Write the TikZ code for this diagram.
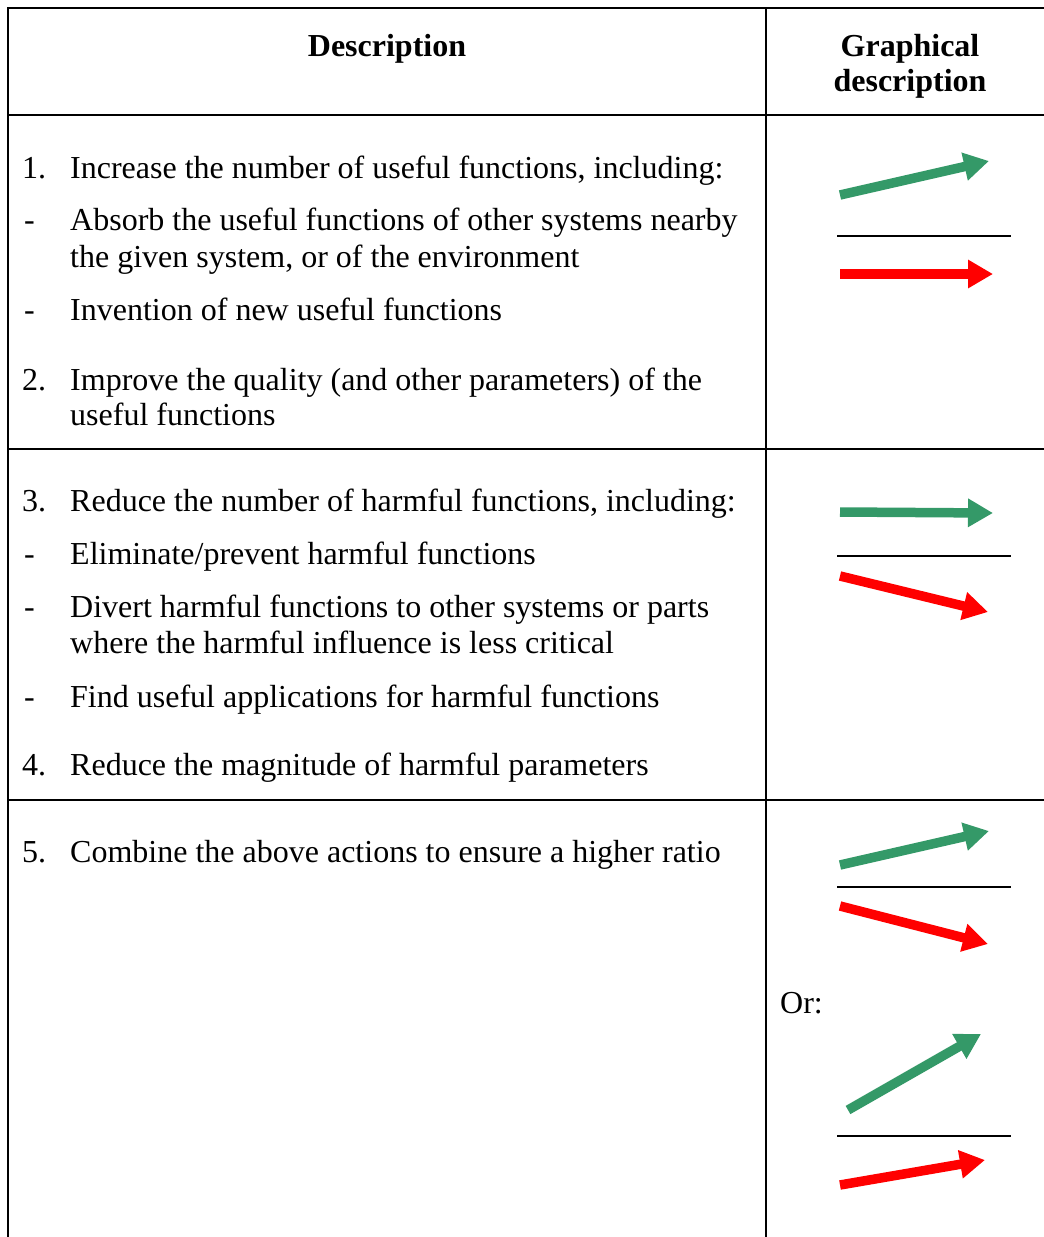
\documentclass[tikz,border=0pt]{standalone}
\usepackage{fontspec}
\setmainfont{Liberation Serif}
\usetikzlibrary{arrows.meta}
\definecolor{upgreen}{RGB}{52,153,104}
\definecolor{downred}{RGB}{255,0,0}
\tikzset{
  rule/.style={line width=2.2pt, line cap=rect},
  thin rule/.style={line width=2pt},
  txt/.style={anchor=base west, inner sep=0pt, font=\fontsize{32}{38}\selectfont},
  head/.style={anchor=base, inner sep=0pt, font=\fontsize{32}{38}\selectfont\bfseries},
  fat arrow/.style={line width=9.5pt, -{Triangle[length=25pt,width=27pt]}},
  good/.style={fat arrow, draw=upgreen, fill=upgreen},
  bad/.style={fat arrow, draw=downred, fill=downred},
}
\begin{document}
\begin{tikzpicture}[x=1pt,y=-1pt]
\useasboundingbox (0,0) rectangle (1044,1237);

% table rules
\draw[rule] (8,8) -- (1044,8);
\draw[rule] (8,115) -- (1044,115);
\draw[rule] (8,449) -- (1044,449);
\draw[rule] (8,800) -- (1044,800);
\draw[rule] (8,8) -- (8,1237);
\draw[rule] (766,8) -- (766,1237);

% header
\node[head] (hdesc) at (387,56) {Description};
\node[head] (hgr1) at (910,56) {Graphical};
\node[head] (hgr2) at (910,91) {description};

% first row
\node[txt] (n1) at (22,178) {1.};
\node[txt] (t1) at (70,178) {Increase the number of useful functions, including:};
\node[txt] (d1) at (24,230) {-};
\node[txt] (t1a) at (70,230) {Absorb the useful functions of other systems nearby};
\node[txt] (t1b) at (70,267) {the given system, or of the environment};
\node[txt] (d2) at (24,320) {-};
\node[txt] (t1c) at (70,320) {Invention of new useful functions};
\node[txt] (n2) at (22,390) {2.};
\node[txt] (t2) at (70,390) {Improve the quality (and other parameters) of the};
\node[txt] (t2b) at (70,425) {useful functions};

% second row
\node[txt] (n3) at (22,511) {3.};
\node[txt] (t3) at (70,511) {Reduce the number of harmful functions, including:};
\node[txt] (d3) at (24,564) {-};
\node[txt] (t3a) at (70,564) {Eliminate/prevent harmful functions};
\node[txt] (d4) at (24,617) {-};
\node[txt] (t3b) at (70,617) {Divert harmful functions to other systems or parts};
\node[txt] (t3c) at (70,653) {where the harmful influence is less critical};
\node[txt] (d5) at (24,707) {-};
\node[txt] (t3d) at (70,707) {Find useful applications for harmful functions};
\node[txt] (n4) at (22,775) {4.};
\node[txt] (t4) at (70,775) {Reduce the magnitude of harmful parameters};

% third row
\node[txt] (n5) at (22,862) {5.};
\node[txt] (t5) at (70,862) {Combine the above actions to ensure a higher ratio};
\node[txt] (or) at (780,1013) {Or:};

% ratio sketches: useful (green) over harmful (red)
\coordinate (g1s) at (840,195);  \coordinate (g1e) at (989,161);
\coordinate (r1s) at (840,274);  \coordinate (r1e) at (993,274);
\draw[good] (g1s) -- (g1e);
\draw[thin rule] (837,235.5) -- (1011,235.5);
\draw[bad] (r1s) -- (r1e);

\coordinate (g2s) at (840,512);  \coordinate (g2e) at (993,513);
\coordinate (r2s) at (840,576);  \coordinate (r2e) at (988,612);
\draw[good] (g2s) -- (g2e);
\draw[thin rule] (837,556) -- (1011,556);
\draw[bad] (r2s) -- (r2e);

\coordinate (g3s) at (840,865);  \coordinate (g3e) at (989,831);
\coordinate (r3s) at (840,906);  \coordinate (r3e) at (988,944);
\draw[good] (g3s) -- (g3e);
\draw[thin rule] (837,886.5) -- (1011,886.5);
\draw[bad] (r3s) -- (r3e);

\coordinate (g4s) at (848,1110); \coordinate (g4e) at (981,1034);
\coordinate (r4s) at (840,1185); \coordinate (r4e) at (985,1160);
\draw[good] (g4s) -- (g4e);
\draw[thin rule] (837,1136) -- (1011,1136);
\draw[bad] (r4s) -- (r4e);
\end{tikzpicture}
\end{document}
